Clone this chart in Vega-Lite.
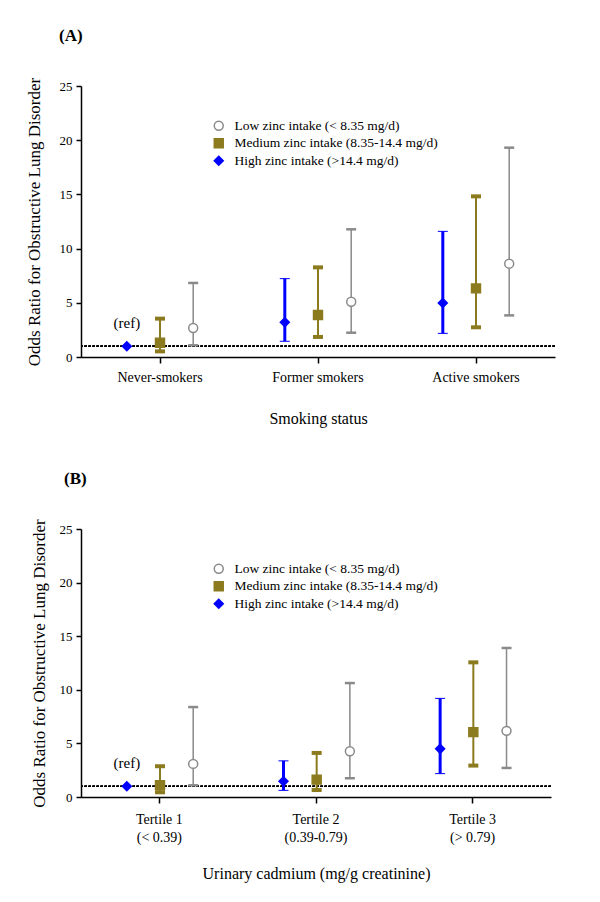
{
  "$schema": "https://vega.github.io/schema/vega-lite/v6.json",
  "background": "white",
  "padding": {"left": 24, "top": 27, "right": 5, "bottom": 5},
  "spacing": 43,
  "config": {
    "font": "Liberation Serif",
    "view": {"stroke": null},
    "axis": {"domainColor": "black", "domainWidth": 1.5, "tickColor": "black", "tickWidth": 1.5, "labelColor": "black", "titleColor": "black", "labelFont": "Liberation Serif", "titleFont": "Liberation Serif", "titleFontWeight": "normal", "grid": false},
    "axisY": {"labelFontSize": 13, "titleFontSize": 17, "tickSize": 5, "labelPadding": 4},
    "axisX": {"labelFontSize": 14, "titleFontSize": 16, "tickSize": 6, "labelPadding": 7, "titlePadding": 26, "labelAngle": 0, "labelLineHeight": 18},
    "legend": {"orient": "none", "legendX": 131, "legendY": 33, "labelFont": "Liberation Serif", "labelFontSize": 13.5, "labelColor": "black", "labelLimit": 0, "symbolSize": 80, "rowPadding": 1.5, "labelOffset": 9, "padding": 0, "symbolStrokeWidth": 1.5},
    "title": {"font": "Liberation Serif", "fontSize": 17, "fontWeight": "bold", "anchor": "start", "frame": "group", "color": "black"}
  },
  "datasets": {
    "A": [
      {"cat": "Never-smokers", "zinc": "High zinc intake (>14.4 mg/d)", "or": 1.0, "note": "(ref)"},
      {"cat": "Never-smokers", "zinc": "Medium zinc intake (8.35-14.4 mg/d)", "or": 1.32, "lo": 0.52, "hi": 3.54},
      {"cat": "Never-smokers", "zinc": "Low zinc intake (< 8.35 mg/d)", "or": 2.68, "lo": 1.08, "hi": 6.83},
      {"cat": "Former smokers", "zinc": "High zinc intake (>14.4 mg/d)", "or": 3.2, "lo": 1.45, "hi": 7.23},
      {"cat": "Former smokers", "zinc": "Medium zinc intake (8.35-14.4 mg/d)", "or": 3.87, "lo": 1.85, "hi": 8.27},
      {"cat": "Former smokers", "zinc": "Low zinc intake (< 8.35 mg/d)", "or": 5.1, "lo": 2.24, "hi": 11.78},
      {"cat": "Active smokers", "zinc": "High zinc intake (>14.4 mg/d)", "or": 4.98, "lo": 2.18, "hi": 11.59},
      {"cat": "Active smokers", "zinc": "Medium zinc intake (8.35-14.4 mg/d)", "or": 6.33, "lo": 2.74, "hi": 14.82},
      {"cat": "Active smokers", "zinc": "Low zinc intake (< 8.35 mg/d)", "or": 8.61, "lo": 3.84, "hi": 19.31}
    ],
    "B": [
      {"cat": "Tertile 1|(< 0.39)", "zinc": "High zinc intake (>14.4 mg/d)", "or": 1.0, "note": "(ref)"},
      {"cat": "Tertile 1|(< 0.39)", "zinc": "Medium zinc intake (8.35-14.4 mg/d)", "or": 1.09, "lo": 0.44, "hi": 2.87},
      {"cat": "Tertile 1|(< 0.39)", "zinc": "Low zinc intake (< 8.35 mg/d)", "or": 3.09, "lo": 1.09, "hi": 8.39},
      {"cat": "Tertile 2|(0.39-0.79)", "zinc": "High zinc intake (>14.4 mg/d)", "or": 1.47, "lo": 0.62, "hi": 3.37},
      {"cat": "Tertile 2|(0.39-0.79)", "zinc": "Medium zinc intake (8.35-14.4 mg/d)", "or": 1.62, "lo": 0.65, "hi": 4.11},
      {"cat": "Tertile 2|(0.39-0.79)", "zinc": "Low zinc intake (< 8.35 mg/d)", "or": 4.27, "lo": 1.75, "hi": 10.63},
      {"cat": "Tertile 3|(> 0.79)", "zinc": "High zinc intake (>14.4 mg/d)", "or": 4.49, "lo": 2.18, "hi": 9.2},
      {"cat": "Tertile 3|(> 0.79)", "zinc": "Medium zinc intake (8.35-14.4 mg/d)", "or": 6.05, "lo": 2.93, "hi": 12.56},
      {"cat": "Tertile 3|(> 0.79)", "zinc": "Low zinc intake (< 8.35 mg/d)", "or": 6.17, "lo": 2.71, "hi": 13.9}
    ]
  },
  "resolve": {
    "scale": {"fill": "independent", "stroke": "independent", "shape": "independent", "strokeWidth": "independent"},
    "legend": {"fill": "independent", "stroke": "independent", "shape": "independent", "strokeWidth": "independent"}
  },
  "vconcat": [
    {
      "title": {"text": "(A)", "dx": -22, "offset": 32},
      "width": 474,
      "height": 271,
      "data": {"name": "A"},
      "layer": [
        {
          "mark": {"type": "rule", "strokeDash": [2.5, 1.5], "strokeWidth": 1, "color": "black"},
          "encoding": {"y": {"datum": 1, "type": "quantitative", "title": "Odds Ratio for Obstructive Lung Disorder"}}
        },
        {
          "mark": {"type": "rule"},
          "encoding": {
            "x": {"field": "cat", "type": "nominal", "sort": ["Never-smokers", "Former smokers", "Active smokers"], "scale": {"paddingInner": 0, "paddingOuter": 0}, "axis": {"title": "Smoking status"}},
            "xOffset": {"field": "zinc", "type": "nominal", "sort": ["High zinc intake (>14.4 mg/d)", "Medium zinc intake (8.35-14.4 mg/d)", "Low zinc intake (< 8.35 mg/d)"], "scale": {"paddingOuter": 0.88, "paddingInner": 0}},
            "y": {"field": "lo", "type": "quantitative", "title": "Odds Ratio for Obstructive Lung Disorder"},
            "y2": {"field": "hi"},
            "stroke": {"field": "zinc", "type": "nominal", "title": null, "scale": {"domain": ["Low zinc intake (< 8.35 mg/d)", "Medium zinc intake (8.35-14.4 mg/d)", "High zinc intake (>14.4 mg/d)"], "range": ["#8a8a8a", "#8c7b1e", "#0000ff"]}},
            "strokeWidth": {"field": "zinc", "type": "ordinal", "legend": null, "scale": {"type": "ordinal", "domain": ["Low zinc intake (< 8.35 mg/d)", "Medium zinc intake (8.35-14.4 mg/d)", "High zinc intake (>14.4 mg/d)"], "range": [1.5, 2, 3]}}
          }
        },
        {
          "mark": {"type": "point", "shape": "M-1,0L1,0", "size": 100, "filled": false, "opacity": 1},
          "encoding": {
            "x": {"field": "cat", "type": "nominal", "sort": ["Never-smokers", "Former smokers", "Active smokers"]},
            "xOffset": {"field": "zinc", "type": "nominal", "sort": ["High zinc intake (>14.4 mg/d)", "Medium zinc intake (8.35-14.4 mg/d)", "Low zinc intake (< 8.35 mg/d)"]},
            "y": {"field": "lo", "type": "quantitative", "title": "Odds Ratio for Obstructive Lung Disorder"},
            "stroke": {"field": "zinc", "type": "nominal", "title": null},
            "strokeWidth": {"field": "zinc", "type": "ordinal", "legend": null}
          }
        },
        {
          "mark": {"type": "point", "shape": "M-1,0L1,0", "size": 100, "filled": false, "opacity": 1},
          "encoding": {
            "x": {"field": "cat", "type": "nominal", "sort": ["Never-smokers", "Former smokers", "Active smokers"]},
            "xOffset": {"field": "zinc", "type": "nominal", "sort": ["High zinc intake (>14.4 mg/d)", "Medium zinc intake (8.35-14.4 mg/d)", "Low zinc intake (< 8.35 mg/d)"]},
            "y": {"field": "hi", "type": "quantitative", "title": "Odds Ratio for Obstructive Lung Disorder"},
            "stroke": {"field": "zinc", "type": "nominal", "title": null},
            "strokeWidth": {"field": "zinc", "type": "ordinal", "legend": null}
          }
        },
        {
          "mark": {"type": "point", "filled": true, "size": 80, "opacity": 1, "strokeWidth": 1.5},
          "encoding": {
            "x": {"field": "cat", "type": "nominal", "sort": ["Never-smokers", "Former smokers", "Active smokers"]},
            "xOffset": {"field": "zinc", "type": "nominal", "sort": ["High zinc intake (>14.4 mg/d)", "Medium zinc intake (8.35-14.4 mg/d)", "Low zinc intake (< 8.35 mg/d)"]},
            "y": {"field": "or", "type": "quantitative", "title": "Odds Ratio for Obstructive Lung Disorder", "scale": {"domain": [0, 25], "nice": false}, "axis": {"values": [0, 5, 10, 15, 20, 25], "titlePadding": 16}},
            "stroke": {"field": "zinc", "type": "nominal", "title": null},
            "fill": {"field": "zinc", "type": "nominal", "title": null, "scale": {"domain": ["Low zinc intake (< 8.35 mg/d)", "Medium zinc intake (8.35-14.4 mg/d)", "High zinc intake (>14.4 mg/d)"], "range": ["white", "#8c7b1e", "#0000ff"]}},
            "shape": {"field": "zinc", "type": "nominal", "title": null, "scale": {"domain": ["Low zinc intake (< 8.35 mg/d)", "Medium zinc intake (8.35-14.4 mg/d)", "High zinc intake (>14.4 mg/d)"], "range": ["circle", "square", "diamond"]}}
          }
        },
        {
          "transform": [{"filter": "isValid(datum.note)"}],
          "mark": {"type": "text", "fontSize": 15, "dy": -23, "color": "black"},
          "encoding": {
            "x": {"field": "cat", "type": "nominal", "sort": ["Never-smokers", "Former smokers", "Active smokers"]},
            "xOffset": {"field": "zinc", "type": "nominal", "sort": ["High zinc intake (>14.4 mg/d)", "Medium zinc intake (8.35-14.4 mg/d)", "Low zinc intake (< 8.35 mg/d)"]},
            "y": {"field": "or", "type": "quantitative", "title": "Odds Ratio for Obstructive Lung Disorder"},
            "text": {"field": "note"}
          }
        }
      ]
    },
    {
      "title": {"text": "(B)", "dx": -17, "offset": 31},
      "width": 470,
      "height": 268,
      "data": {"name": "B"},
      "layer": [
        {
          "mark": {"type": "rule", "strokeDash": [2.5, 1.5], "strokeWidth": 1, "color": "black"},
          "encoding": {"y": {"datum": 1, "type": "quantitative", "title": "Odds Ratio for Obstructive Lung Disorder"}}
        },
        {
          "mark": {"type": "rule"},
          "encoding": {
            "x": {"field": "cat", "type": "nominal", "sort": ["Tertile 1|(< 0.39)", "Tertile 2|(0.39-0.79)", "Tertile 3|(> 0.79)"], "scale": {"paddingInner": 0, "paddingOuter": 0}, "axis": {"title": "Urinary cadmium (mg/g creatinine)", "labelExpr": "split(datum.label, '|')", "labelPadding": 9, "titlePadding": 21}},
            "xOffset": {"field": "zinc", "type": "nominal", "sort": ["High zinc intake (>14.4 mg/d)", "Medium zinc intake (8.35-14.4 mg/d)", "Low zinc intake (< 8.35 mg/d)"], "scale": {"paddingOuter": 0.88, "paddingInner": 0}},
            "y": {"field": "lo", "type": "quantitative", "title": "Odds Ratio for Obstructive Lung Disorder"},
            "y2": {"field": "hi"},
            "stroke": {"field": "zinc", "type": "nominal", "title": null, "scale": {"domain": ["Low zinc intake (< 8.35 mg/d)", "Medium zinc intake (8.35-14.4 mg/d)", "High zinc intake (>14.4 mg/d)"], "range": ["#8a8a8a", "#8c7b1e", "#0000ff"]}},
            "strokeWidth": {"field": "zinc", "type": "ordinal", "legend": null, "scale": {"type": "ordinal", "domain": ["Low zinc intake (< 8.35 mg/d)", "Medium zinc intake (8.35-14.4 mg/d)", "High zinc intake (>14.4 mg/d)"], "range": [1.5, 2, 3]}}
          }
        },
        {
          "mark": {"type": "point", "shape": "M-1,0L1,0", "size": 100, "filled": false, "opacity": 1},
          "encoding": {
            "x": {"field": "cat", "type": "nominal", "sort": ["Tertile 1|(< 0.39)", "Tertile 2|(0.39-0.79)", "Tertile 3|(> 0.79)"]},
            "xOffset": {"field": "zinc", "type": "nominal", "sort": ["High zinc intake (>14.4 mg/d)", "Medium zinc intake (8.35-14.4 mg/d)", "Low zinc intake (< 8.35 mg/d)"]},
            "y": {"field": "lo", "type": "quantitative", "title": "Odds Ratio for Obstructive Lung Disorder"},
            "stroke": {"field": "zinc", "type": "nominal", "title": null},
            "strokeWidth": {"field": "zinc", "type": "ordinal", "legend": null}
          }
        },
        {
          "mark": {"type": "point", "shape": "M-1,0L1,0", "size": 100, "filled": false, "opacity": 1},
          "encoding": {
            "x": {"field": "cat", "type": "nominal", "sort": ["Tertile 1|(< 0.39)", "Tertile 2|(0.39-0.79)", "Tertile 3|(> 0.79)"]},
            "xOffset": {"field": "zinc", "type": "nominal", "sort": ["High zinc intake (>14.4 mg/d)", "Medium zinc intake (8.35-14.4 mg/d)", "Low zinc intake (< 8.35 mg/d)"]},
            "y": {"field": "hi", "type": "quantitative", "title": "Odds Ratio for Obstructive Lung Disorder"},
            "stroke": {"field": "zinc", "type": "nominal", "title": null},
            "strokeWidth": {"field": "zinc", "type": "ordinal", "legend": null}
          }
        },
        {
          "mark": {"type": "point", "filled": true, "size": 80, "opacity": 1, "strokeWidth": 1.5},
          "encoding": {
            "x": {"field": "cat", "type": "nominal", "sort": ["Tertile 1|(< 0.39)", "Tertile 2|(0.39-0.79)", "Tertile 3|(> 0.79)"]},
            "xOffset": {"field": "zinc", "type": "nominal", "sort": ["High zinc intake (>14.4 mg/d)", "Medium zinc intake (8.35-14.4 mg/d)", "Low zinc intake (< 8.35 mg/d)"]},
            "y": {"field": "or", "type": "quantitative", "title": "Odds Ratio for Obstructive Lung Disorder", "scale": {"domain": [0, 25], "nice": false}, "axis": {"values": [0, 5, 10, 15, 20, 25], "titlePadding": 11}},
            "stroke": {"field": "zinc", "type": "nominal", "title": null},
            "fill": {"field": "zinc", "type": "nominal", "title": null, "scale": {"domain": ["Low zinc intake (< 8.35 mg/d)", "Medium zinc intake (8.35-14.4 mg/d)", "High zinc intake (>14.4 mg/d)"], "range": ["white", "#8c7b1e", "#0000ff"]}},
            "shape": {"field": "zinc", "type": "nominal", "title": null, "scale": {"domain": ["Low zinc intake (< 8.35 mg/d)", "Medium zinc intake (8.35-14.4 mg/d)", "High zinc intake (>14.4 mg/d)"], "range": ["circle", "square", "diamond"]}}
          }
        },
        {
          "transform": [{"filter": "isValid(datum.note)"}],
          "mark": {"type": "text", "fontSize": 15, "dy": -23, "color": "black"},
          "encoding": {
            "x": {"field": "cat", "type": "nominal", "sort": ["Tertile 1|(< 0.39)", "Tertile 2|(0.39-0.79)", "Tertile 3|(> 0.79)"]},
            "xOffset": {"field": "zinc", "type": "nominal", "sort": ["High zinc intake (>14.4 mg/d)", "Medium zinc intake (8.35-14.4 mg/d)", "Low zinc intake (< 8.35 mg/d)"]},
            "y": {"field": "or", "type": "quantitative", "title": "Odds Ratio for Obstructive Lung Disorder"},
            "text": {"field": "note"}
          }
        }
      ]
    }
  ]
}
